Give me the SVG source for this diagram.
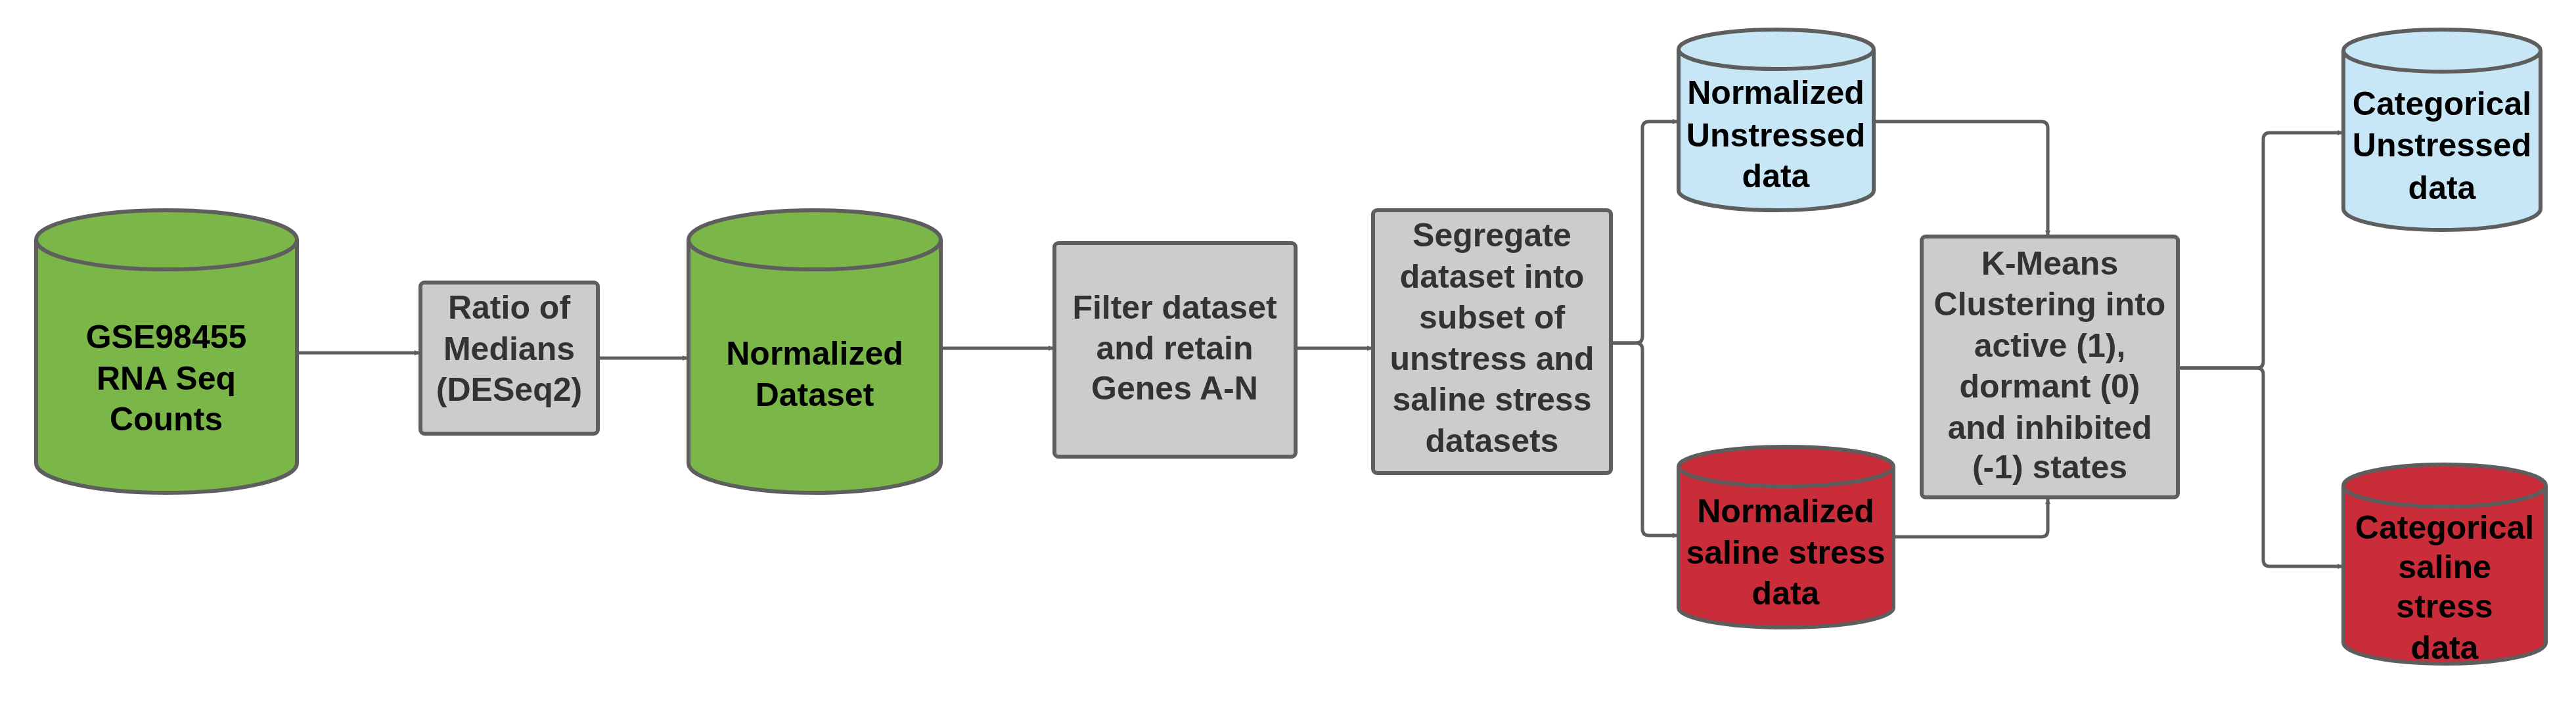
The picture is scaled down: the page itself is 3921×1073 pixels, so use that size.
<svg xmlns="http://www.w3.org/2000/svg" width="3921" height="1073" viewBox="0 0 3921 1073">
<defs>
<marker id="ah" markerWidth="8" markerHeight="8" refX="7" refY="4" orient="auto" markerUnits="userSpaceOnUse" viewBox="0 0 8 8"><path d="M0,0 L8,4 L0,8 Z" fill="#5e5e5e"/></marker>
<style>
.s{stroke:#5e5e5e;stroke-width:6}
.g{fill:#7ab648}.b{fill:#c7e6f6}.r{fill:#c92d39}.p{fill:#cccccc}
.c{fill:none;stroke:#5e5e5e;stroke-width:5;marker-end:url(#ah)}
text{font-family:"Liberation Sans Narrow","Liberation Sans",Arial,sans-serif;font-weight:bold;font-size:50px;text-anchor:middle}
.k{fill:#000}.d{fill:#333}
</style>
</defs>
<rect width="3921" height="1073" fill="#fff"/>
<g id="connectors">
<path class="c" d="M452,537 H638" style="marker-end:url(#ah)"/>
<path class="c" d="M910,545 H1046"/>
<path class="c" d="M1432,530 H1603"/>
<path class="c" d="M1972,530 H2088"/>
<path class="c" d="M2452,522 H2490 Q2500,522 2500,512 V195 Q2500,185 2510,185 H2553"/>
<path class="c" d="M2452,522 H2490 Q2500,522 2500,532 V805 Q2500,815 2510,815 H2553"/>
<path class="c" d="M2852,185 H3107 Q3117,185 3117,195 V358"/>
<path class="c" d="M2882,817 H3107 Q3117,817 3117,807 V760"/>
<path class="c" d="M3315,560 H3435 Q3445,560 3445,550 V212 Q3445,202 3455,202 H3565"/>
<path class="c" d="M3315,560 H3435 Q3445,560 3445,570 V852 Q3445,862 3455,862 H3565"/>
</g>
<g id="gse">
<path class="s g" d="M55,365 A198.5,45 0 0 1 452,365 V705 A198.5,45 0 0 1 55,705 Z"/>
<path class="s" fill="none" d="M55,365 A198.5,45 0 0 0 452,365"/>
<text class="k"><tspan x="253" y="530">GSE98455</tspan><tspan x="253" y="593">RNA Seq</tspan><tspan x="253" y="655">Counts</tspan></text>
</g>
<g id="ratio">
<rect class="s p" x="640" y="430" width="270" height="230" rx="6"/>
<text class="d"><tspan x="775" y="485">Ratio of</tspan><tspan x="775" y="548">Medians</tspan><tspan x="775" y="610">(DESeq2)</tspan></text>
</g>
<g id="normds">
<path class="s g" d="M1048,365 A192,45 0 0 1 1432,365 V705 A192,45 0 0 1 1048,705 Z"/>
<path class="s" fill="none" d="M1048,365 A192,45 0 0 0 1432,365"/>
<text class="k"><tspan x="1240" y="555">Normalized</tspan><tspan x="1240" y="618">Dataset</tspan></text>
</g>
<g id="filter">
<rect class="s p" x="1605" y="370" width="367" height="325" rx="6"/>
<text class="d"><tspan x="1788" y="485">Filter dataset</tspan><tspan x="1788" y="547">and retain</tspan><tspan x="1788" y="608">Genes A-N</tspan></text>
</g>
<g id="segregate">
<rect class="s p" x="2090" y="320" width="362" height="400" rx="6"/>
<text class="d"><tspan x="2271" y="375">Segregate</tspan><tspan x="2271" y="438">dataset into</tspan><tspan x="2271" y="500">subset of</tspan><tspan x="2271" y="563">unstress and</tspan><tspan x="2271" y="625">saline stress</tspan><tspan x="2271" y="688">datasets</tspan></text>
</g>
<g id="normunstressed">
<path class="s b" d="M2555,75 A148.5,30 0 0 1 2852,75 V290 A148.5,30 0 0 1 2555,290 Z"/>
<path class="s" fill="none" d="M2555,75 A148.5,30 0 0 0 2852,75"/>
<text class="k"><tspan x="2703" y="158">Normalized</tspan><tspan x="2703" y="223">Unstressed</tspan><tspan x="2703" y="285">data</tspan></text>
</g>
<g id="normsaline">
<path class="s r" d="M2555,710 A163.5,30 0 0 1 2882,710 V925 A163.5,30 0 0 1 2555,925 Z"/>
<path class="s" fill="none" d="M2555,710 A163.5,30 0 0 0 2882,710"/>
<text class="k"><tspan x="2718" y="795">Normalized</tspan><tspan x="2718" y="858">saline stress</tspan><tspan x="2718" y="920">data</tspan></text>
</g>
<g id="kmeans">
<rect class="s p" x="2925" y="360" width="390" height="397" rx="6"/>
<text class="d"><tspan x="3120" y="418">K-Means</tspan><tspan x="3120" y="480">Clustering into</tspan><tspan x="3120" y="543">active (1),</tspan><tspan x="3120" y="605">dormant (0)</tspan><tspan x="3120" y="668">and inhibited</tspan><tspan x="3120" y="728">(-1) states</tspan></text>
</g>
<g id="catunstressed">
<path class="s b" d="M3567,77 A150,32 0 0 1 3867,77 V318 A150,32 0 0 1 3567,318 Z"/>
<path class="s" fill="none" d="M3567,77 A150,32 0 0 0 3867,77"/>
<text class="k"><tspan x="3717" y="175">Categorical</tspan><tspan x="3717" y="238">Unstressed</tspan><tspan x="3717" y="303">data</tspan></text>
</g>
<g id="catsaline">
<path class="s r" d="M3567,739 A154,32 0 0 1 3875,739 V978 A154,32 0 0 1 3567,978 Z"/>
<path class="s" fill="none" d="M3567,739 A154,32 0 0 0 3875,739"/>
<text class="k"><tspan x="3721" y="820">Categorical</tspan><tspan x="3721" y="880">saline</tspan><tspan x="3721" y="940">stress</tspan><tspan x="3721" y="1003">data</tspan></text>
</g>
</svg>
